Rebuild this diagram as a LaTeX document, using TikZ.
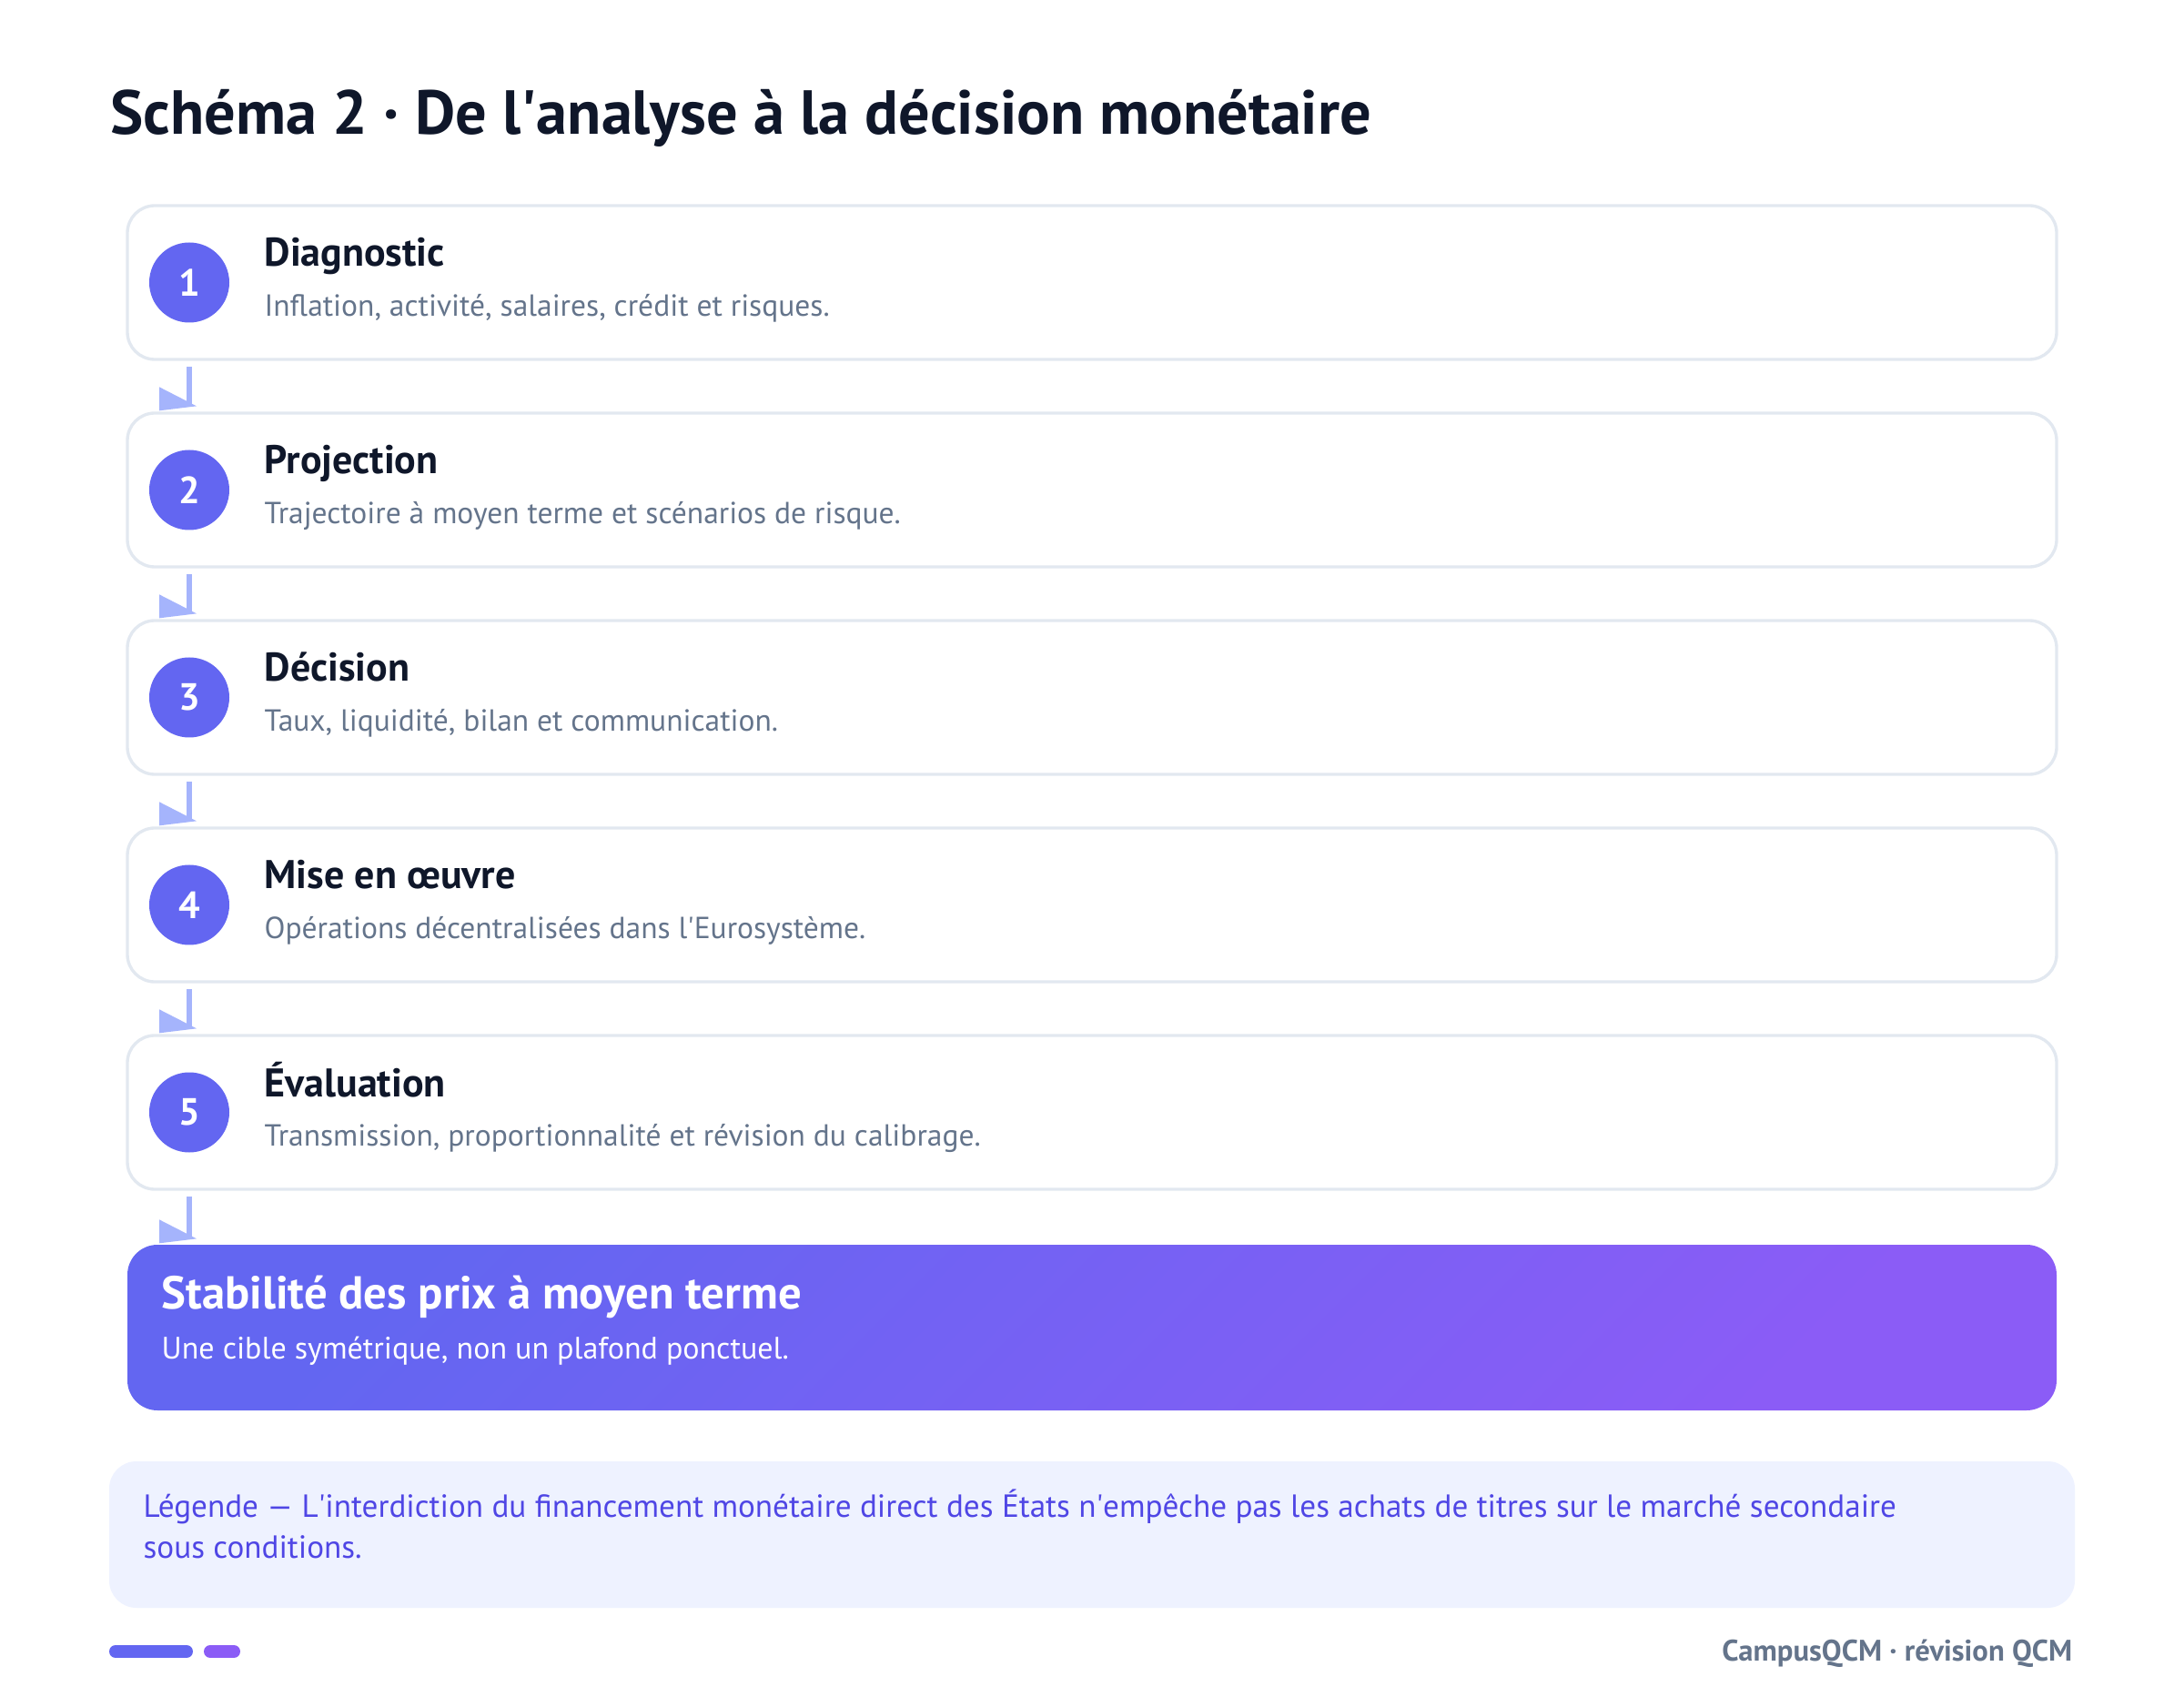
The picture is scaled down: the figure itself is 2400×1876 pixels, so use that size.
\documentclass[tikz,border=0pt]{standalone}
\usepackage{fontspec}
\setmainfont{PT Sans}
\usetikzlibrary{positioning}
\definecolor{ink}{HTML}{0F172A}
\definecolor{slate}{HTML}{64748B}
\definecolor{edge}{HTML}{E2E8F0}
\definecolor{indigo}{HTML}{6366F1}
\definecolor{violet}{HTML}{8B5CF6}
\definecolor{flow}{HTML}{A5B4FC}
\definecolor{legbg}{HTML}{EEF2FF}
\definecolor{legtxt}{HTML}{4F46E5}
\newcommand{\apos}{\textquotesingle}

\begin{document}
\begin{tikzpicture}[x=0.3pt,y=-0.3pt,
  stepbox/.style={draw=edge, line width=1pt, fill=white, rounded corners=9pt,
    minimum width=636pt, minimum height=50.7pt, inner sep=0pt},
  numdot/.style={circle, fill=indigo, text=white, minimum size=26.4pt, inner sep=0pt,
    font=\fontsize{12.5}{14}\selectfont\bfseries},
  headtxt/.style={anchor=base west, inner sep=0pt, text=ink,
    font=\fontsize{13.2}{16}\selectfont\bfseries},
  desctxt/.style={anchor=base west, inner sep=0pt, text=slate,
    font=\fontsize{10.05}{13}\selectfont},
  goalbox/.style={rounded corners=9.9pt, shading=axis, top color=indigo, bottom color=violet,
    shading angle=45, minimum width=636pt, minimum height=54.6pt, inner sep=0pt},
  flowline/.style={draw=flow, line width=1.8pt},
]
% page
\fill[white] (0,0) rectangle (2400,1876);
\useasboundingbox (0,0) rectangle (2400,1876);

\node[anchor=base west, inner sep=0pt, text=ink, font=\fontsize{20.5}{24}\selectfont\bfseries]
  (title) at (121,148) {Schéma 2 · De l\apos analyse à la décision monétaire};

% steps
\foreach \i/\head/\txt in {1/Diagnostic/{Inflation, activité, salaires, crédit et risques.},
  2/Projection/{Trajectoire à moyen terme et scénarios de risque.},
  3/Décision/{Taux, liquidité, bilan et communication.},
  4/Mise en œuvre/{Opérations décentralisées dans l\apos Eurosystème.},
  5/Évaluation/{Transmission, proportionnalité et révision du calibrage.}}
{
  \pgfmathsetmacro\top{226+228*(\i-1)}
  \node[stepbox] (box\i) at (1200,\top+84.5) {};
  \node[numdot] (num\i) at (208,\top+84.5) {\i};
  \node[headtxt] (head\i) at (290,\top+67) {\head};
  \node[desctxt] (desc\i) at (290,\top+122) {\txt};
}

% goal
\node[goalbox] (goal) at (1200,1459) {};
\node[anchor=base west, inner sep=0pt, text=white, font=\fontsize{15.2}{18}\selectfont\bfseries]
  (goalhead) at (177,1438) {Stabilité des prix à moyen terme};
\node[anchor=base west, inner sep=0pt, text=white, font=\fontsize{10.2}{12}\selectfont]
  (goaltxt) at (177,1493) {Une cible symétrique, non un plafond ponctuel.};

% arrows
\foreach \a/\b in {box1/box2,box2/box3,box3/box4,box4/box5,box5/goal}
{
  \coordinate (tip-\a) at ([yshift=2.1pt]\b.north -| num1);
  \draw[flowline] ([yshift=-2pt]\a.south -| num1) -- (tip-\a);
  \fill[flow] ([shift={(-33,-20)}]tip-\a) -- ([shift={(8,1)}]tip-\a)
    -- ([shift={(-33,6)}]tip-\a) -- cycle;
}

% legend
\node[fill=legbg, rounded corners=9pt, minimum width=648pt, minimum height=48.3pt,
  inner sep=0pt] (legend) at (1200,1686.5) {};
\node[anchor=base west, inner sep=0pt, text=legtxt, align=left,
  font=\fontsize{10.55}{13.5}\selectfont] (legendtxt) at (157,1712)
  {Légende — L\apos interdiction du financement monétaire direct des États n\apos empêche pas les achats de titres sur le marché secondaire\\sous conditions.};

% footer
\draw[indigo, line width=4.2pt, line cap=round] (127,1815) -- (205,1815);
\draw[violet, line width=4.2pt, line cap=round] (231,1815) -- (257,1815);
\node[anchor=base east, inner sep=0pt, text=slate, font=\fontsize{9.8}{12}\selectfont\bfseries]
  (footer) at (2278,1825) {CampusQCM · révision QCM};

\end{tikzpicture}
\end{document}
